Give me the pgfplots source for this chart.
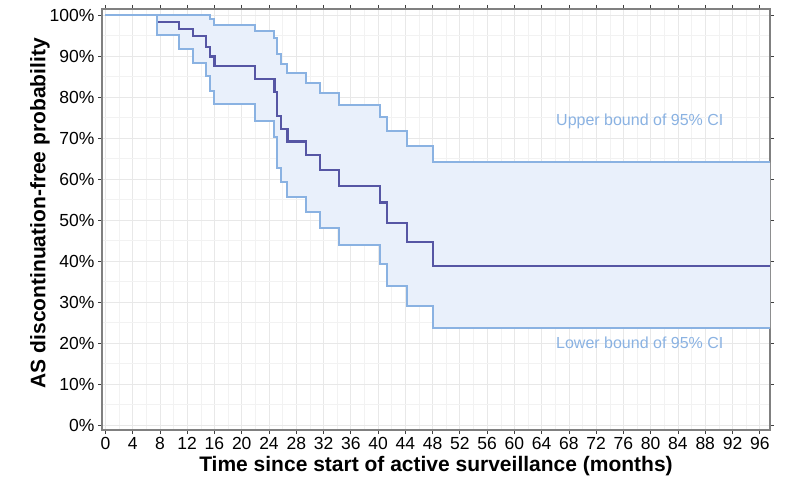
\documentclass[border=0pt]{standalone}
\usepackage{fontspec}
\setmainfont{Liberation Sans}
\usepackage{pgfplots}
\pgfplotsset{compat=1.18}
\usepgfplotslibrary{fillbetween}

\definecolor{kmline}{RGB}{86,86,164}
\definecolor{ciline}{RGB}{138,178,226}
\definecolor{cifill}{RGB}{233,240,251}
\definecolor{panelborder}{RGB}{128,128,128}

% Kaplan-Meier estimate and 95% CI (percent)
\pgfplotstableread{
t     est    lo     hi
0     100    100    100
7.6   98.4   95.2   100
10.8  96.7   91.7   100
12.9  94.9   88.4   100
14.8  92.2   85.2   100
15.4  89.9   81.5   99.1
16.0  87.5   78.3   97.7
21.9  84.4   74.1   96.2
24.8  81.3   70.3   94.5
25.2  75.4   62.8   90.5
25.8  72.2   59.2   88.2
26.7  69.2   55.6   86.0
29.4  65.8   51.9   83.5
31.5  62.3   48.1   80.9
34.3  58.4   43.9   78.2
40.3  54.3   39.4   75.1
41.3  49.3   34.0   71.8
44.2  44.6   29.1   68.0
48.1  38.9   23.6   64.1
97.5  38.9   23.6   64.1
}\kmdata

\begin{document}
\begin{tikzpicture}
\begin{axis}[
    scale only axis,
    width=668pt, height=421pt,
    xmin=-0.5, xmax=97.5,
    ymin=-1.2, ymax=101.5,
    xtick={0,4,...,96},
    minor xtick={2,6,...,98},
    ytick={0,10,...,100},
    minor ytick={5,15,...,95},
    yticklabel={\pgfmathprintnumber{\tick}\%},
    /pgf/number format/assume math mode=true,
    grid=both,
    major grid style={color=black!9, line width=0.8pt},
    minor grid style={color=black!5, line width=0.5pt},
    axis line style={color=panelborder, line width=1.2pt},
    tick align=outside,
    major tick length=4pt,
    minor tick length=0pt,
    tick style={color=black!75, line width=0.8pt},
    ticklabel style={font=\fontsize{17.5}{20}\selectfont, text=black},
    xlabel={Time since start of active surveillance (months)},
    ylabel={AS discontinuation-free probability},
    label style={font=\bfseries\fontsize{21}{24}\selectfont},
    xlabel style={at={(axis description cs:0.5,0)}, anchor=center, yshift=-36pt},
    ylabel style={at={(axis description cs:0,0.515)}, anchor=center, yshift=62pt},
]
\addplot[draw=none, name path=upper, const plot] table[x=t, y=hi] {\kmdata};
\addplot[draw=none, name path=lower, const plot] table[x=t, y=lo] {\kmdata};
\addplot[cifill] fill between[of=upper and lower];
\addplot[const plot, color=kmline, line width=2.2pt] table[x=t, y=est] {\kmdata};
\addplot[const plot, color=ciline, line width=2pt] table[x=t, y=hi] {\kmdata};
\addplot[const plot, color=ciline, line width=2pt] table[x=t, y=lo] {\kmdata};
\node[text=ciline, font=\fontsize{16}{18}\selectfont] at (axis cs:78.4,74.1) {Upper bound of 95\% CI};
\node[text=ciline, font=\fontsize{16}{18}\selectfont] at (axis cs:78.4,20.0) {Lower bound of 95\% CI};
\end{axis}
\pgfresetboundingbox
\path[use as bounding box] (-102pt,-63pt) rectangle (698pt,430pt);
\end{tikzpicture}
\end{document}
